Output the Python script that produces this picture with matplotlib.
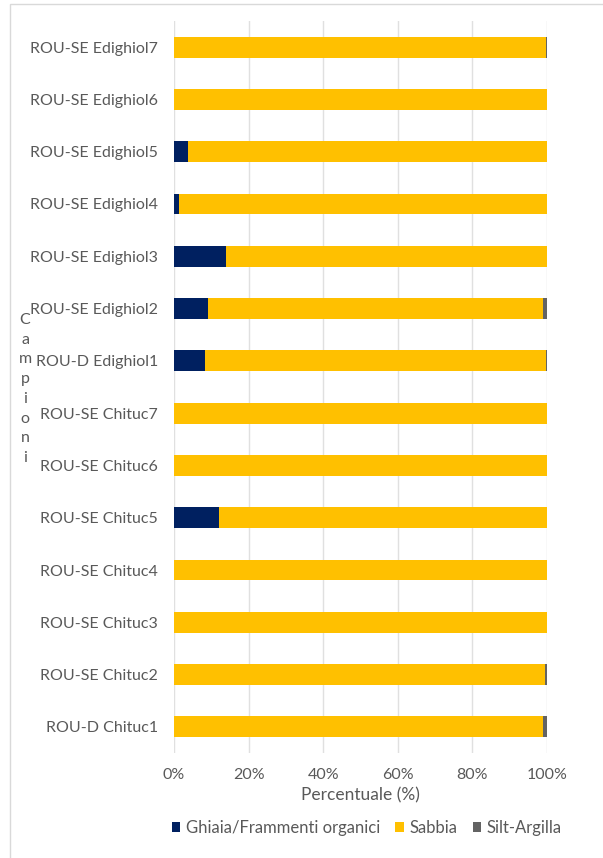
import matplotlib
matplotlib.use("Agg")
import matplotlib.pyplot as plt
from matplotlib.patches import Rectangle
from matplotlib.ticker import PercentFormatter

categories = ["ROU-D Chituc1", "ROU-SE Chituc2", "ROU-SE Chituc3", "ROU-SE Chituc4",
              "ROU-SE Chituc5", "ROU-SE Chituc6", "ROU-SE Chituc7", "ROU-D Edighiol1",
              "ROU-SE Edighiol2", "ROU-SE Edighiol3", "ROU-SE Edighiol4", "ROU-SE Edighiol5",
              "ROU-SE Edighiol6", "ROU-SE Edighiol7"]
ghiaia = [0.0, 0.0, 0.0, 0.0, 12.0, 0.0, 0.0, 8.3, 9.0, 13.9, 1.3, 3.8, 0.0, 0.0]
silt = [1.0, 0.5, 0.1, 0.1, 0.1, 0.1, 0.1, 0.3, 1.1, 0.1, 0.1, 0.1, 0.1, 0.3]
sabbia = [100 - g - s for g, s in zip(ghiaia, silt)]
series_names = ["Ghiaia/Frammenti organici", "Sabbia", "Silt-Argilla"]
xticks = [0, 20, 40, 60, 80, 100]

plt.rcParams['font.family'] = ['Lato', 'DejaVu Sans']
txt = '#595959'
fs = 11.5

fig = plt.figure(figsize=(6.03, 8.58), dpi=100)
W, H = 603, 858
ax = fig.add_axes([174 / W, 1 - 753 / H, (547 - 174) / W, (753 - 21) / H])

# figure border
fig.patches.append(Rectangle((10 / W, -0.1), 1.2, 1 - 4 / H + 0.1, transform=fig.transFigure,
                             fill=False, edgecolor='#d9d9d9', linewidth=1))

y = range(len(categories))
h = 0.40
ax.barh(y, ghiaia, height=h, color='#002060', label=series_names[0])
ax.barh(y, sabbia, height=h, left=ghiaia, color='#FFC000', label=series_names[1])
left2 = [g + s for g, s in zip(ghiaia, sabbia)]
ax.barh(y, silt, height=h, left=left2, color='#636363', label=series_names[2])

ax.set_xlim(0, 100)
ax.set_ylim(-0.5, len(categories) - 0.5)
ax.set_xticks(xticks)
ax.xaxis.set_major_formatter(PercentFormatter(decimals=0))
ax.set_yticks(list(y))
ax.set_yticklabels(categories)
ax.tick_params(axis='both', length=0, colors=txt, labelsize=fs)
ax.tick_params(axis='x', pad=10.5)
ax.tick_params(axis='y', pad=11.5)
for s in ax.spines.values():
    s.set_visible(False)
ax.grid(axis='x', color='#e0e0e0', linewidth=1)
ax.set_axisbelow(True)

ax.set_xlabel("Percentuale (%)", color=txt, fontsize=12.5, labelpad=4)
fig.text(25 / W, 1 - 389 / H, "\n".join("Campioni"), color=txt, fontsize=fs,
         ha='center', va='center', linespacing=1.52)

leg = fig.legend(loc='center', bbox_to_anchor=(367 / W, 1 - 828 / H), ncol=3, frameon=False,
                 fontsize=12, handlelength=0.5, handleheight=0.5, handletextpad=0.35,
                 columnspacing=0.9, labelcolor=txt)

fig.savefig("out.png", dpi=100)
